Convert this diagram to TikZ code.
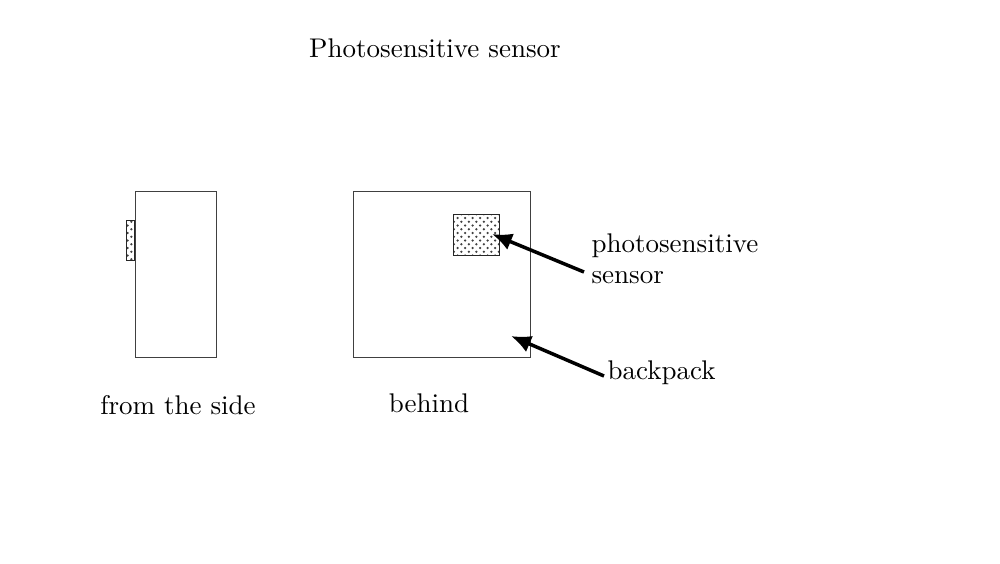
\documentclass[tikz,border=0pt]{standalone}
\usetikzlibrary{patterns,arrows.meta}
\begin{document}
\begin{tikzpicture}[x=0.4pt,y=-0.4pt,
  box/.style={draw=black!75,line width=0.4pt},
  sens/.style={draw=black!85,line width=0.4pt,pattern=crosshatch dots,pattern color=black!75},
  lbl/.style={font=\fontsize{10.8}{12.6}\selectfont,inner sep=0pt},
  pointer/.style={line width=1.4pt,-{Latex[length=8pt,width=7pt]}}]
\useasboundingbox (0,0) rectangle (1000,563);
\node[lbl] (title) at (435,48) {Photosensitive sensor};
\draw[box] (135,191) rectangle (216,357);
\draw[sens] (126,220) rectangle (134,260);
\draw[box] (353,191) rectangle (530,357);
\draw[sens] (453,214) rectangle (499,255);
\coordinate (sensortip) at (492,234);
\coordinate (packtip) at (511,336);
\node[lbl,anchor=west,align=left] (sensorlbl) at (591,259) {photosensitive\\sensor};
\node[lbl,anchor=west] (packlbl) at (607,373) {backpack};
\node[lbl] (side) at (178,405) {from the side};
\node[lbl] (behind) at (429,403) {behind};
\draw[pointer] (584,272) -- (sensortip);
\draw[pointer] (604,376) -- (packtip);
\end{tikzpicture}
\end{document}
